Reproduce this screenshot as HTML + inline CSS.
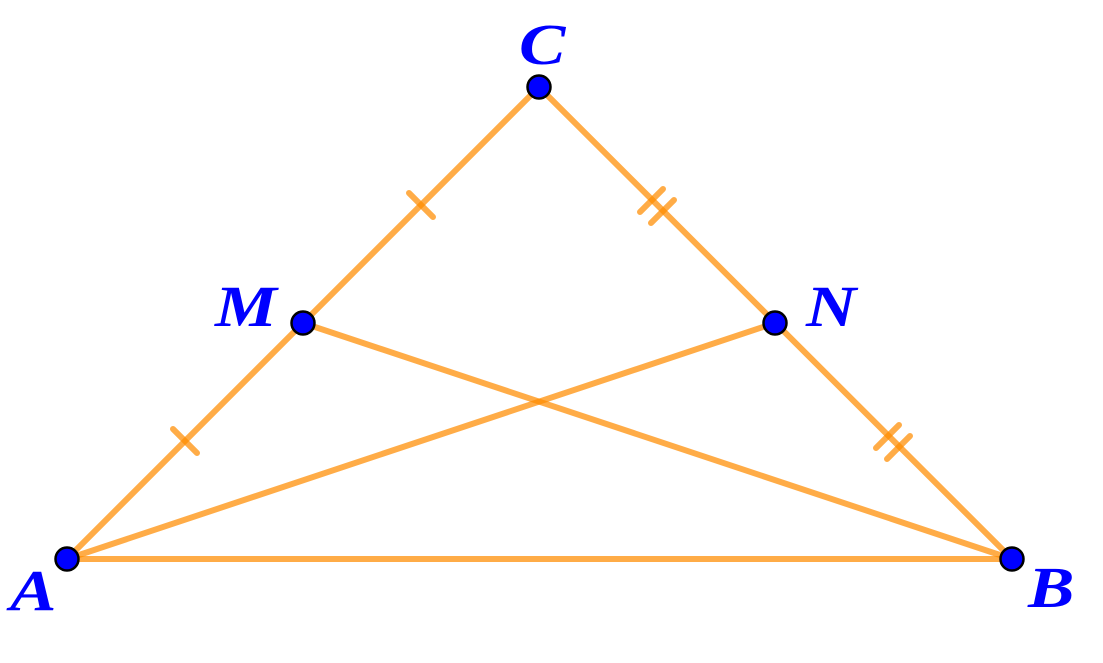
<!DOCTYPE html>
<html><head><meta charset="utf-8"><style>
html,body{margin:0;padding:0;background:#fff;}
svg{display:block;}
text{font-family:"Liberation Serif",serif;font-weight:bold;font-style:italic;font-size:58px;fill:#0000ff;}
</style></head><body>
<svg width="1103" height="663" viewBox="0 0 1103 663" xmlns="http://www.w3.org/2000/svg">
<g stroke="#ff8c00" stroke-opacity="0.72" stroke-width="6" stroke-linecap="round" fill="none">
<line x1="67" y1="559" x2="1012" y2="559"/>
<line x1="67" y1="559" x2="539" y2="87"/>
<line x1="539" y1="87" x2="1012" y2="559"/>
<line x1="303" y1="323" x2="1012" y2="559"/>
<line x1="775" y1="323" x2="67" y2="559"/>
<line x1="173" y1="429" x2="197" y2="453"/>
<line x1="409" y1="193" x2="433" y2="217"/>
<line x1="640" y1="212" x2="663" y2="189"/>
<line x1="651" y1="223" x2="674" y2="200"/>
<line x1="876" y1="448" x2="899" y2="425"/>
<line x1="887" y1="459" x2="910" y2="436"/>
</g>
<g fill="#0000ff" stroke="#000" stroke-width="2.5">
<circle cx="67" cy="559" r="11.5"/>
<circle cx="1012" cy="559" r="11.5"/>
<circle cx="539" cy="87" r="11.5"/>
<circle cx="303" cy="323" r="11.5"/>
<circle cx="775" cy="323" r="11.5"/>
</g>
<text transform="translate(519,64) scale(1.2,1)">C</text>
<text transform="translate(215,326) scale(1.2,1)">M</text>
<text transform="translate(806,326) scale(1.2,1)">N</text>
<text transform="translate(10,610) scale(1.2,1)">A</text>
<text transform="translate(1028,607) scale(1.2,1)">B</text>
</svg>
</body></html>
